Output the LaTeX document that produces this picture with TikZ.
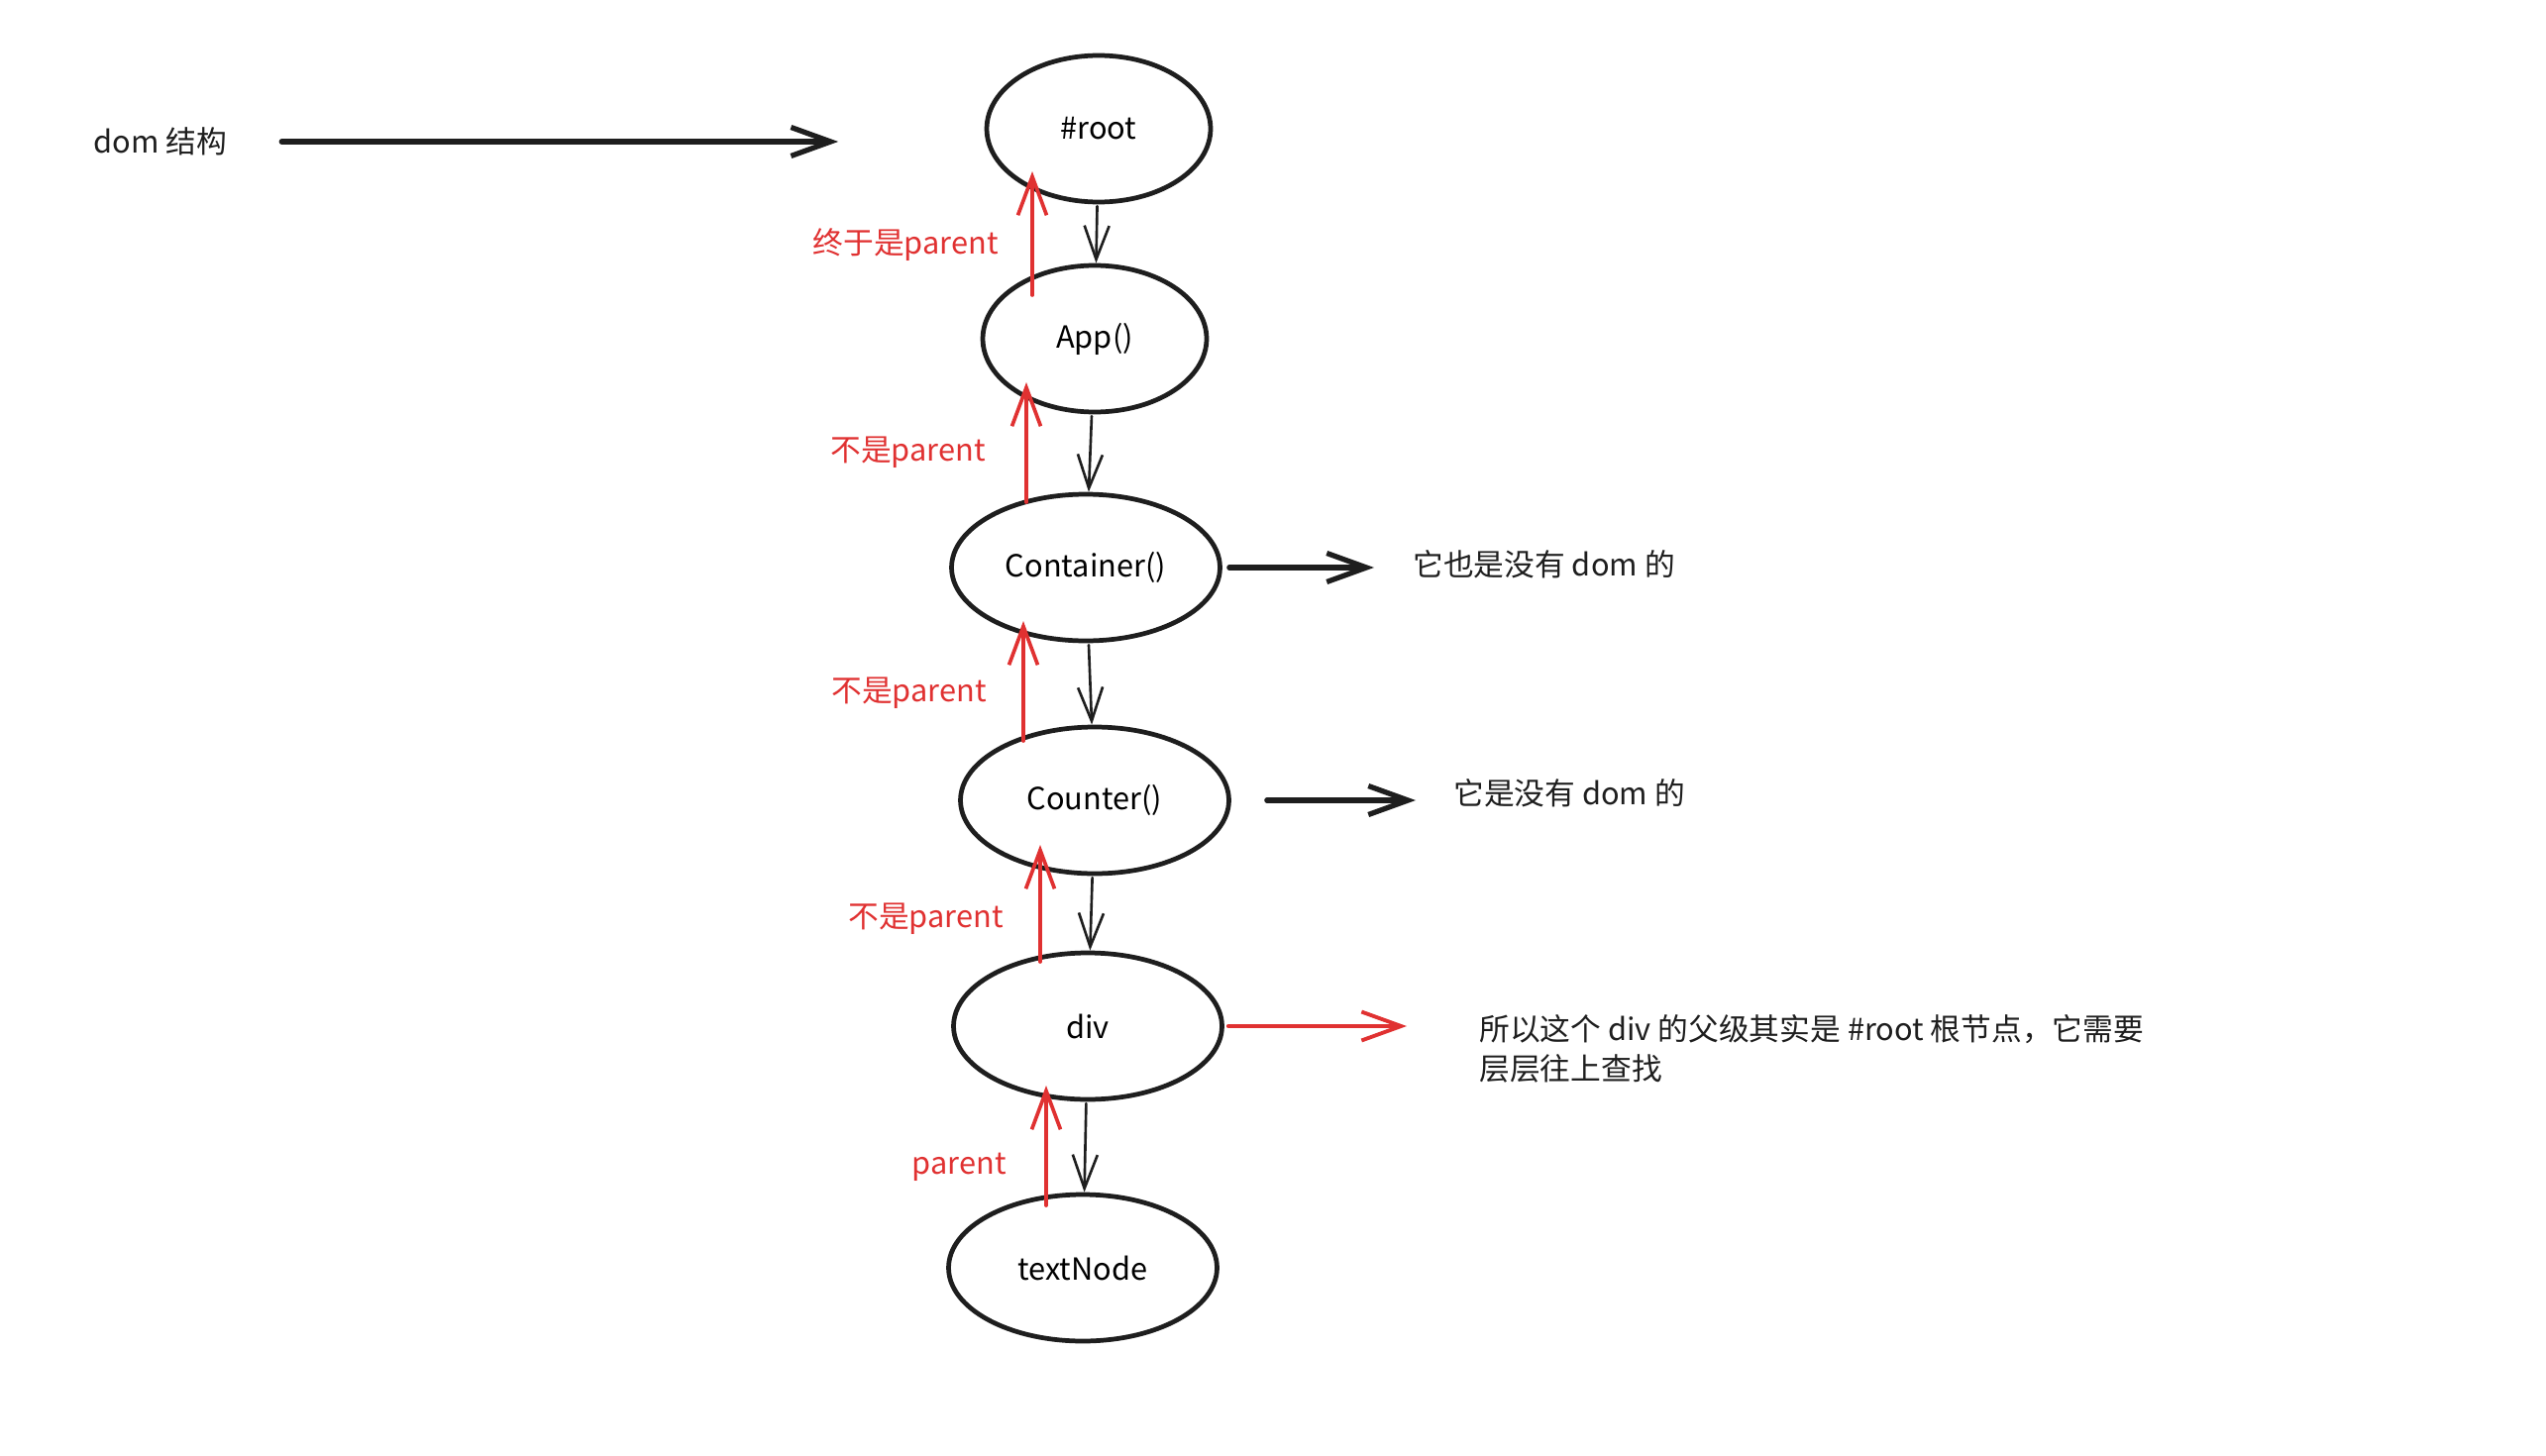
\documentclass[tikz,border=0pt]{standalone}
\usepackage{fontspec}
\setmainfont{Noto Sans CJK SC}
\usetikzlibrary{arrows.meta,calc,shapes.geometric}
\definecolor{ink}{RGB}{30,30,30}
\definecolor{inkred}{RGB}{224,49,49}
\tikzset{
	tree/.style={draw=ink, ellipse, line width=2.7pt, inner sep=0pt, minimum height=2.96cm},
	narrow/.style={tree, minimum width=4.52cm},
	wide/.style={tree, minimum width=5.42cm},
	child/.style={draw=ink, line width=1.5pt, line cap=round, -{Straight Barb[length=6.8mm,width=5mm]}, shorten <=1pt, shorten >=0pt},
	parentof/.style={draw=inkred, line width=2.1pt, line cap=round, -{Straight Barb[length=7.8mm,width=5.8mm]}},
	pointer/.style={draw=ink, line width=3pt, line cap=round, -{Straight Barb[length=8mm,width=5.8mm]}},
	note/.style={anchor=west, inner sep=0pt, text=ink},
	tag/.style={anchor=east, inner sep=0pt, text=inkred},
}

\begin{document}
\begin{tikzpicture}[x=0.02cm, y=-0.02cm, font=\fontsize{17.5}{22.8}\selectfont]
		%%%%% START %%%%%
		\useasboundingbox (0,0) rectangle (2570,1470);
		
		\node[narrow] (root) at (1109,130) {\#root};
		\node[narrow] (app) at (1105,342) {App()};
		\node[wide] (container) at (1096,573) {Container()};
		\node[wide] (counter) at (1105,808) {Counter()};
		\node[wide] (div) at (1098,1036) {div};
		\node[wide] (textnode) at (1093,1280) {textNode};
		
		\draw[child] (root) -- (app);
		\draw[child] (app) -- (container);
		\draw[child] (container) -- (counter);
		\draw[child] (counter) -- (div);
		\draw[child] (div) -- (textnode);
		
		\draw[parentof] ($(app)+(-63,-44)$) -- ($(root)+(-67,43)$);
		\draw[parentof] ($(container)+(-60,-66)$) -- ($(app)+(-69,44)$);
		\draw[parentof] ($(counter)+(-72,-60)$) -- ($(container)+(-63,54)$);
		\draw[parentof] ($(div)+(-48,-65)$) -- ($(counter)+(-55,45)$);
		\draw[parentof] ($(textnode)+(-37,-63)$) -- ($(div)+(-42,60)$);
		
		\node[tag] (tagroot) at (1008,247) {终于是parent};
		\node[tag] (tagapp) at (995,457) {不是parent};
		\node[tag] (tagcontainer) at (996,700) {不是parent};
		\node[tag] (tagcounter) at (1013,928) {不是parent};
		\node[tag] (tagdiv) at (1016,1178) {parent};
		
		\node[note] (domtxt) at (94,143) {dom 结构};
		\node[note] (note1) at (1426,570) {它也是没有 dom 的};
		\node[note] (note2) at (1467,801) {它是没有 dom 的};
		\node[note, align=left] (note3) at (1493,1059) {所以这个 div 的父级其实是 \#root 根节点，它需要\\层层往上查找};
		
		\draw[pointer, shorten <=1.1cm, shorten >=2.95cm] (domtxt.east) -- (domtxt.east -| root.west);
		\draw[pointer, shorten <=0.14cm, shorten >=0.78cm] (container.east) -- (container.east -| note1.west);
		\draw[pointer, shorten <=0.72cm, shorten >=0.76cm] (counter.east) -- (counter.east -| note2.west);
		\draw[pointer, draw=inkred, line width=2.2pt, shorten <=0.08cm, shorten >=1.46cm] (div.east) -- (div.east -| note3.west);
		
		%%%%% END %%%%%
\end{tikzpicture}
\end{document}
